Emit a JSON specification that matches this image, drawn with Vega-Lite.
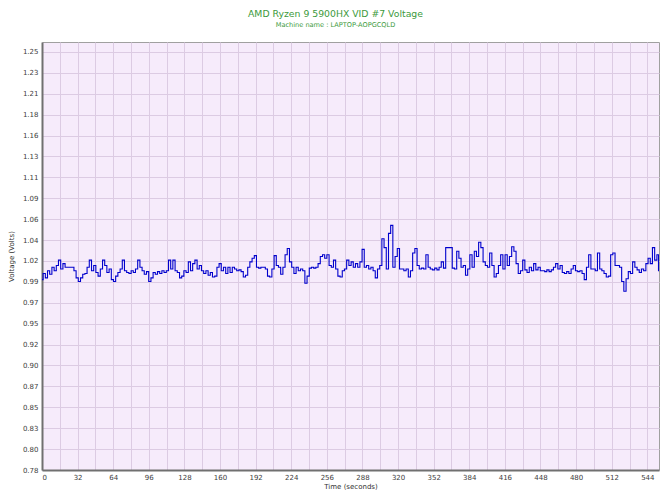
{
"$schema": "https://vega.github.io/schema/vega-lite/v6.json",
"autosize": "none",
"width": 617,
"height": 428,
"padding": {"left": 42, "top": 42, "right": 11, "bottom": 32},
"background": "white",
"title": {"text": "AMD Ryzen 9 5900HX VID #7 Voltage", "subtitle": "Machine name : LAPTOP-AOPGCQLD", "color": "#3c9a3c", "subtitleColor": "#3c9a3c", "font": "DejaVu Sans", "subtitleFont": "DejaVu Sans", "fontSize": 9.3, "subtitleFontSize": 6.6, "fontWeight": "normal", "anchor": "middle", "dx": -15, "offset": 13, "subtitlePadding": 3},
"config": {"view": {"fill": "#f6ebfb", "stroke": "#a0a0a0", "strokeWidth": 1}},
"data": {"values": [
{"t":0.0,"v":0.994},{"t":2.0,"v":1.001},{"t":4.0,"v":0.996},{"t":5.9,"v":1.004},{"t":7.9,"v":1.000},{"t":9.9,"v":1.008},{"t":11.9,"v":1.004},{"t":13.8,"v":1.010},{"t":15.8,"v":1.016},{"t":17.8,"v":1.006},
{"t":19.8,"v":1.012},{"t":21.7,"v":1.008},{"t":23.7,"v":1.008},{"t":25.7,"v":1.008},{"t":27.7,"v":1.008},{"t":29.7,"v":1.004},{"t":31.6,"v":0.996},{"t":33.6,"v":0.992},{"t":35.6,"v":0.996},{"t":37.6,"v":1.000},
{"t":39.5,"v":1.001},{"t":41.5,"v":1.008},{"t":43.5,"v":1.016},{"t":45.5,"v":1.004},{"t":47.4,"v":1.010},{"t":49.4,"v":1.002},{"t":51.4,"v":0.998},{"t":53.4,"v":1.006},{"t":55.4,"v":1.016},{"t":57.3,"v":1.010},
{"t":59.3,"v":1.002},{"t":61.3,"v":1.006},{"t":63.3,"v":0.994},{"t":65.2,"v":0.992},{"t":67.2,"v":0.998},{"t":69.2,"v":1.002},{"t":71.2,"v":1.006},{"t":73.1,"v":1.016},{"t":75.1,"v":1.004},{"t":77.1,"v":1.002},
{"t":79.1,"v":1.001},{"t":81.1,"v":1.004},{"t":83.0,"v":1.002},{"t":85.0,"v":1.006},{"t":87.0,"v":1.016},{"t":89.0,"v":1.008},{"t":90.9,"v":1.004},{"t":92.9,"v":1.000},{"t":94.9,"v":1.003},{"t":96.9,"v":0.992},
{"t":98.9,"v":0.996},{"t":100.8,"v":1.002},{"t":102.8,"v":1.000},{"t":104.8,"v":1.003},{"t":106.8,"v":1.001},{"t":108.7,"v":1.004},{"t":110.7,"v":1.002},{"t":112.7,"v":1.004},{"t":114.7,"v":1.016},{"t":116.6,"v":1.006},
{"t":118.6,"v":1.016},{"t":120.6,"v":1.004},{"t":122.6,"v":1.002},{"t":124.6,"v":0.996},{"t":126.5,"v":0.998},{"t":128.5,"v":1.004},{"t":130.5,"v":1.002},{"t":132.5,"v":1.014},{"t":134.4,"v":1.004},{"t":136.4,"v":1.012},
{"t":138.4,"v":1.016},{"t":140.4,"v":1.006},{"t":142.3,"v":1.010},{"t":144.3,"v":1.004},{"t":146.3,"v":1.001},{"t":148.3,"v":1.004},{"t":150.3,"v":0.999},{"t":152.2,"v":1.002},{"t":154.2,"v":0.997},{"t":156.2,"v":0.998},
{"t":158.2,"v":1.008},{"t":160.1,"v":1.012},{"t":162.1,"v":1.004},{"t":164.1,"v":1.008},{"t":166.1,"v":1.001},{"t":168.0,"v":1.008},{"t":170.0,"v":1.002},{"t":172.0,"v":1.008},{"t":174.0,"v":1.006},{"t":176.0,"v":1.004},
{"t":177.9,"v":1.005},{"t":179.9,"v":1.003},{"t":181.9,"v":0.997},{"t":183.9,"v":0.999},{"t":185.8,"v":1.008},{"t":187.8,"v":1.014},{"t":189.8,"v":1.018},{"t":191.8,"v":1.021},{"t":193.7,"v":1.008},{"t":195.7,"v":1.007},
{"t":197.7,"v":1.008},{"t":199.7,"v":1.008},{"t":201.7,"v":1.006},{"t":203.6,"v":0.998},{"t":205.6,"v":0.997},{"t":207.6,"v":1.006},{"t":209.6,"v":1.021},{"t":211.5,"v":1.010},{"t":213.5,"v":1.008},{"t":215.5,"v":1.000},
{"t":217.5,"v":1.008},{"t":219.4,"v":1.022},{"t":221.4,"v":1.029},{"t":223.4,"v":1.014},{"t":225.4,"v":1.008},{"t":227.4,"v":1.001},{"t":229.3,"v":1.008},{"t":231.3,"v":1.004},{"t":233.3,"v":1.006},{"t":235.3,"v":1.004},
{"t":237.2,"v":0.990},{"t":239.2,"v":0.998},{"t":241.2,"v":1.007},{"t":243.2,"v":1.008},{"t":245.1,"v":1.007},{"t":247.1,"v":1.008},{"t":249.1,"v":1.012},{"t":251.1,"v":1.020},{"t":253.1,"v":1.022},{"t":255.0,"v":1.018},
{"t":257.0,"v":1.022},{"t":259.0,"v":1.010},{"t":261.0,"v":1.008},{"t":262.9,"v":1.016},{"t":264.9,"v":1.006},{"t":266.9,"v":0.998},{"t":268.9,"v":0.997},{"t":270.8,"v":1.004},{"t":272.8,"v":1.006},{"t":274.8,"v":1.016},
{"t":276.8,"v":1.010},{"t":278.8,"v":1.014},{"t":280.7,"v":1.008},{"t":282.7,"v":1.012},{"t":284.7,"v":1.008},{"t":286.7,"v":1.014},{"t":288.6,"v":1.028},{"t":290.6,"v":1.008},{"t":292.6,"v":1.010},{"t":294.6,"v":1.006},
{"t":296.6,"v":1.008},{"t":298.5,"v":1.004},{"t":300.5,"v":0.996},{"t":302.5,"v":1.006},{"t":304.5,"v":1.010},{"t":306.4,"v":1.040},{"t":308.4,"v":1.030},{"t":310.4,"v":1.006},{"t":312.4,"v":1.046},{"t":314.3,"v":1.055},
{"t":316.3,"v":1.008},{"t":318.3,"v":1.020},{"t":320.3,"v":1.029},{"t":322.3,"v":1.006},{"t":324.2,"v":1.006},{"t":326.2,"v":1.004},{"t":328.2,"v":1.006},{"t":330.2,"v":0.997},{"t":332.1,"v":1.004},{"t":334.1,"v":1.024},
{"t":336.1,"v":1.029},{"t":338.1,"v":1.010},{"t":340.0,"v":1.006},{"t":342.0,"v":1.007},{"t":344.0,"v":1.006},{"t":346.0,"v":1.022},{"t":348.0,"v":1.008},{"t":349.9,"v":1.006},{"t":351.9,"v":1.005},{"t":353.9,"v":1.007},
{"t":355.9,"v":1.005},{"t":357.8,"v":1.008},{"t":359.8,"v":1.014},{"t":361.8,"v":1.007},{"t":363.8,"v":1.030},{"t":365.7,"v":1.030},{"t":367.7,"v":1.030},{"t":369.7,"v":1.007},{"t":371.7,"v":1.006},{"t":373.7,"v":1.026},
{"t":375.6,"v":1.018},{"t":377.6,"v":1.008},{"t":379.6,"v":1.010},{"t":381.6,"v":0.999},{"t":383.5,"v":1.006},{"t":385.5,"v":1.022},{"t":387.5,"v":1.008},{"t":389.5,"v":1.026},{"t":391.4,"v":1.020},{"t":393.4,"v":1.036},
{"t":395.4,"v":1.030},{"t":397.4,"v":1.014},{"t":399.4,"v":1.010},{"t":401.3,"v":1.008},{"t":403.3,"v":1.024},{"t":405.3,"v":1.010},{"t":407.3,"v":0.997},{"t":409.2,"v":1.001},{"t":411.2,"v":1.010},{"t":413.2,"v":1.022},
{"t":415.2,"v":1.006},{"t":417.1,"v":1.022},{"t":419.1,"v":1.010},{"t":421.1,"v":1.020},{"t":423.1,"v":1.031},{"t":425.1,"v":1.026},{"t":427.0,"v":1.012},{"t":429.0,"v":1.001},{"t":431.0,"v":1.004},{"t":433.0,"v":1.016},
{"t":434.9,"v":1.005},{"t":436.9,"v":1.002},{"t":438.9,"v":1.008},{"t":440.9,"v":1.004},{"t":442.8,"v":1.012},{"t":444.8,"v":1.005},{"t":446.8,"v":1.008},{"t":448.8,"v":1.004},{"t":450.8,"v":1.004},{"t":452.7,"v":1.003},
{"t":454.7,"v":1.005},{"t":456.7,"v":1.003},{"t":458.7,"v":1.005},{"t":460.6,"v":1.008},{"t":462.6,"v":1.012},{"t":464.6,"v":1.006},{"t":466.6,"v":1.010},{"t":468.5,"v":1.002},{"t":470.5,"v":1.001},{"t":472.5,"v":1.003},
{"t":474.5,"v":1.001},{"t":476.5,"v":1.006},{"t":478.4,"v":1.010},{"t":480.4,"v":1.004},{"t":482.4,"v":1.003},{"t":484.4,"v":1.004},{"t":486.3,"v":1.001},{"t":488.3,"v":0.994},{"t":490.3,"v":1.008},{"t":492.3,"v":1.022},
{"t":494.3,"v":1.006},{"t":496.2,"v":1.006},{"t":498.2,"v":1.004},{"t":500.2,"v":1.024},{"t":502.2,"v":1.006},{"t":504.1,"v":1.004},{"t":506.1,"v":1.001},{"t":508.1,"v":0.997},{"t":510.1,"v":0.998},{"t":512.0,"v":1.022},
{"t":514.0,"v":1.024},{"t":516.0,"v":1.010},{"t":518.0,"v":1.010},{"t":520.0,"v":1.008},{"t":521.9,"v":0.992},{"t":523.9,"v":0.981},{"t":525.9,"v":0.995},{"t":527.9,"v":1.003},{"t":529.8,"v":1.001},{"t":531.8,"v":1.014},
{"t":533.8,"v":1.008},{"t":535.8,"v":1.005},{"t":537.7,"v":1.002},{"t":539.7,"v":1.006},{"t":541.7,"v":1.004},{"t":543.7,"v":1.012},{"t":545.7,"v":1.018},{"t":547.6,"v":1.012},{"t":549.6,"v":1.030},{"t":551.6,"v":1.016},
{"t":553.6,"v":1.022},{"t":554.5,"v":1.004}
]},
"mark": {"type": "line", "color": "#0000cc", "strokeWidth": 1.1, "interpolate": "step", "clip": true},
"encoding": {
  "x": {"field": "t", "type": "quantitative",
    "scale": {"domain": [0, 554.5], "nice": false, "zero": false},
    "axis": {"values": [0,16,32,48,64,80,96,112,128,144,160,176,192,208,224,240,256,272,288,304,320,336,352,368,384,400,416,432,448,464,480,496,512,528,544],
      "labelExpr": "datum.value % 32 == 0 ? datum.label : ''",
      "grid": true, "gridColor": "#dccbe3", "gridWidth": 1,
      "domainColor": "#707070", "domainWidth": 2, "ticks": false,
      "labelFont": "DejaVu Sans", "labelFontSize": 7, "labelColor": "#404040", "labelPadding": 3,
      "title": "Time (seconds)", "titleFont": "DejaVu Sans", "titleFontSize": 7, "titleFontWeight": "normal", "titleColor": "#303030", "titlePadding": 2}},
  "y": {"field": "v", "type": "quantitative",
    "scale": {"domain": [0.78, 1.2612], "nice": false, "zero": false},
    "axis": {"values": [0.78,0.8035,0.827,0.8505,0.874,0.8975,0.921,0.9445,0.968,0.9915,1.015,1.0385,1.062,1.0855,1.109,1.1325,1.156,1.1795,1.203,1.2265,1.25],
      "labelExpr": "['0.78','0.80','0.83','0.85','0.87','0.90','0.92','0.95','0.97','0.99','1.02','1.04','1.06','1.09','1.11','1.13','1.16','1.18','1.21','1.23','1.25'][round((datum.value-0.78)/0.0235)]",
      "grid": true, "gridColor": "#dccbe3", "gridWidth": 1,
      "domainColor": "#707070", "domainWidth": 2, "ticks": false,
      "labelFont": "DejaVu Sans", "labelFontSize": 7, "labelColor": "#404040", "labelPadding": 4,
      "title": "Voltage (Volts)", "titleFont": "DejaVu Sans", "titleFontSize": 7, "titleFontWeight": "normal", "titleColor": "#303030", "titlePadding": 8}}
}
}
